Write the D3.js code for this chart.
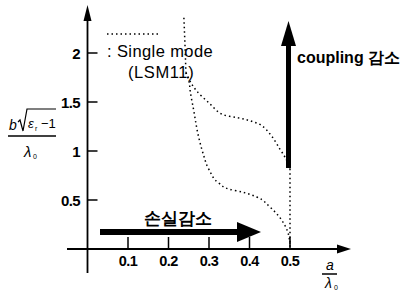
<!DOCTYPE html>
<meta charset="utf-8">
<script src="https://d3js.org/d3.v7.min.js"></script>
<style>
  body { margin: 0; background: #fff; }
  text { font-family: "Liberation Sans", Arial, sans-serif; fill: #000; }
  .tick { font-family: "Liberation Sans Narrow", "Liberation Sans", sans-serif; font-weight: bold; }
</style>
<div id="chart"></div>
<script>
// tick values
const xTicks = [0.1, 0.2, 0.3, 0.4, 0.5];
const yTicks = [0.5, 1, 1.5, 2];

// single mode (LSM11) boundary
const stemX = [0.238, 0.241, 0.243];
const stemY = [2.36, 2.05, 1.8];
const upperX = [0.243, 0.255, 0.27, 0.30, 0.33, 0.37, 0.40, 0.43, 0.455, 0.475, 0.49, 0.5];
const upperY = [1.8, 1.7, 1.61, 1.49, 1.38, 1.34, 1.31, 1.26, 1.15, 1.02, 0.92, 0.82];
const rightX = [0.5, 0.5];
const rightY = [0.82, 0.0];
const lowerX = [0.243, 0.25, 0.254, 0.262, 0.274, 0.285, 0.30, 0.325, 0.35, 0.383, 0.418, 0.45, 0.475, 0.493, 0.5];
const lowerY = [1.8, 1.72, 1.6, 1.42, 1.15, 0.98, 0.81, 0.67, 0.61, 0.58, 0.53, 0.43, 0.32, 0.19, 0.05];

const W = 406, H = 300;
const svg = d3.select("#chart").append("svg")
  .attr("width", W).attr("height", H);

const x = d3.scaleLinear().domain([0, 0.5]).range([87.5, 290]);
const y = d3.scaleLinear().domain([0, 2]).range([249, 53]);

const line = d3.line().x(d => x(d[0])).y(d => y(d[1])).curve(d3.curveMonotoneY);
const lineX = d3.line().x(d => x(d[0])).y(d => y(d[1])).curve(d3.curveCatmullRom);

// axes
svg.append("line").attr("x1", x(0)).attr("x2", x(0)).attr("y1", 18).attr("y2", 273)
  .attr("stroke", "#000").attr("stroke-width", 1.8);
svg.append("path").attr("d", `M${x(0)},5 L${x(0)-4},21 L${x(0)+4},21 Z`).attr("fill", "#000");
svg.append("line").attr("x1", 67).attr("x2", 340).attr("y1", y(0)).attr("y2", y(0))
  .attr("stroke", "#000").attr("stroke-width", 1.8);
svg.append("path").attr("d", `M351,${y(0)} L337,${y(0)-4.5} L337,${y(0)+4.5} Z`).attr("fill", "#000");

// y ticks
yTicks.forEach(v => {
  svg.append("line").attr("x1", x(0)).attr("x2", x(0) + 10).attr("y1", y(v)).attr("y2", y(v))
    .attr("stroke", "#000").attr("stroke-width", 1.5);
  svg.append("text").attr("class", "tick").attr("x", 80).attr("y", y(v) + 5.5)
    .attr("text-anchor", "end").attr("font-size", 15).attr("letter-spacing", -0.6).text(v);
});
// x ticks
xTicks.forEach(v => {
  svg.append("line").attr("x1", x(v)).attr("x2", x(v)).attr("y1", y(0)).attr("y2", y(0) - 12)
    .attr("stroke", "#000").attr("stroke-width", 1.5);
  svg.append("text").attr("class", "tick").attr("x", x(v)).attr("y", y(0) + 17)
    .attr("text-anchor", "middle").attr("font-size", 14.5).attr("letter-spacing", -0.6).text(v);
});

// dotted curves
const dots = { stroke: "#000", "stroke-width": 1.5, "stroke-dasharray": "1.5,3", fill: "none" };
function dotted(xs, ys, gen) {
  const p = svg.append("path").datum(xs.map((v, i) => [v, ys[i]])).attr("d", gen);
  Object.entries(dots).forEach(([k, v]) => p.attr(k, v));
}
dotted(stemX, stemY, line);
dotted(upperX, upperY, lineX);
dotted(rightX, rightY, line);
dotted(lowerX, lowerY, line);

// legend
const lg = svg.append("line").attr("x1", 107).attr("x2", 158).attr("y1", 34).attr("y2", 34);
Object.entries(dots).forEach(([k, v]) => lg.attr(k, v));
svg.append("text").attr("x", 107).attr("y", 57).attr("font-size", 16.5).attr("letter-spacing", 0.4)
  .text(": Single mode");
svg.append("text").attr("x", 128).attr("y", 78).attr("font-size", 16.5).attr("letter-spacing", 0.6)
  .text("(LSM11)");

// coupling arrow
svg.append("line").attr("x1", 288.5).attr("x2", 288.5).attr("y1", 168).attr("y2", 42)
  .attr("stroke", "#000").attr("stroke-width", 5);
svg.append("path").attr("d", "M288.5,21 L281,46 L296,46 Z").attr("fill", "#000");
svg.append("text").attr("x", 297).attr("y", 63).attr("font-size", 16).attr("font-weight", 600)
  .attr("font-family", "'Liberation Sans', 'Noto Sans CJK KR', sans-serif").text("coupling 감소");

// loss arrow
svg.append("line").attr("x1", 100).attr("x2", 240).attr("y1", 232).attr("y2", 232)
  .attr("stroke", "#000").attr("stroke-width", 6);
svg.append("path").attr("d", "M261,232 L237,222 L237,242 Z").attr("fill", "#000");
svg.append("text").attr("x", 178).attr("y", 224).attr("text-anchor", "middle")
  .attr("font-size", 17).attr("font-weight", "bold")
  .attr("font-family", "'Noto Sans CJK KR', sans-serif").text("손실감소");

// y axis label (fraction)
const yl = svg.append("g");
yl.append("text").attr("x", 9).attr("y", 130).attr("font-size", 14)
  .attr("font-family", "'DejaVu Serif', serif").attr("font-style", "italic").text("b");
yl.append("path").attr("d", "M18,122 L20,120 L23,131 L27,109 L56,109")
  .attr("fill", "none").attr("stroke", "#000").attr("stroke-width", 1.2);
yl.append("text").attr("x", 28).attr("y", 128).attr("font-size", 13)
  .attr("font-family", "'DejaVu Serif', serif").attr("font-style", "italic").text("ε");
yl.append("text").attr("x", 35).attr("y", 131).attr("font-size", 7).text("r");
yl.append("text").attr("x", 41).attr("y", 128).attr("font-size", 13).text("−1");
yl.append("line").attr("x1", 8).attr("x2", 56).attr("y1", 136).attr("y2", 136)
  .attr("stroke", "#000").attr("stroke-width", 1.5);
yl.append("text").attr("x", 24).attr("y", 157).attr("font-size", 15)
  .attr("font-family", "'DejaVu Serif', serif").attr("font-style", "italic").text("λ");
yl.append("text").attr("x", 33).attr("y", 159).attr("font-size", 7).text("0");

// x axis label (fraction)
svg.append("text").attr("x", 330).attr("y", 270).attr("text-anchor", "middle").attr("font-size", 14)
  .attr("font-family", "'DejaVu Serif', serif").attr("font-style", "italic").text("a");
svg.append("line").attr("x1", 322).attr("x2", 337).attr("y1", 274).attr("y2", 274)
  .attr("stroke", "#000").attr("stroke-width", 1.5);
svg.append("text").attr("x", 325).attr("y", 288).attr("font-size", 14)
  .attr("font-family", "'DejaVu Serif', serif").attr("font-style", "italic").text("λ");
svg.append("text").attr("x", 334).attr("y", 290).attr("font-size", 7).text("0");
</script>
